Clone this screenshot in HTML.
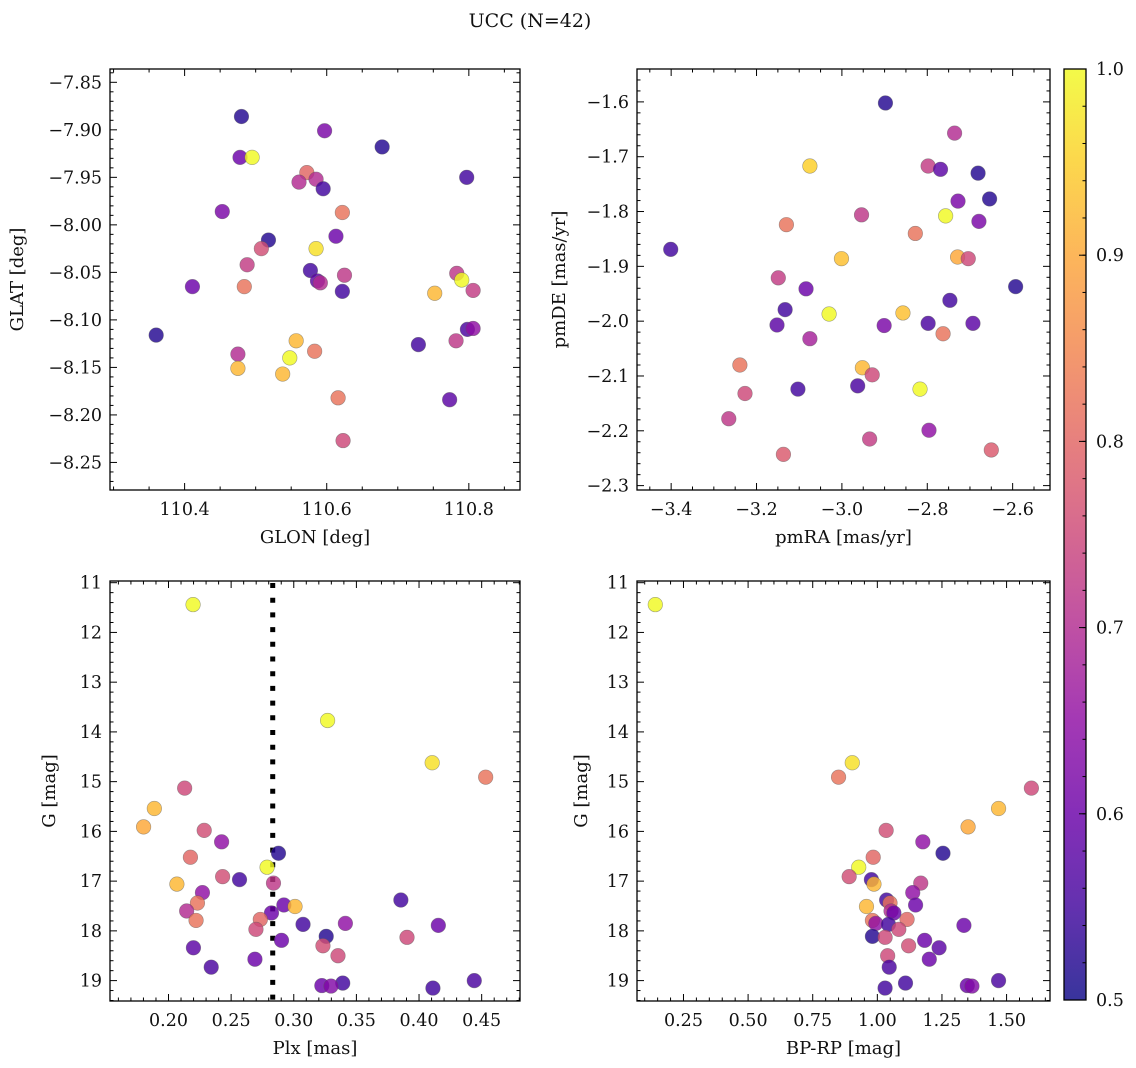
<!DOCTYPE html>
<html><head><meta charset="utf-8"><style>
html,body{margin:0;padding:0;background:#fff;}
svg{display:block;font-family:"DejaVu Serif","Liberation Serif",serif;}
svg text{font-family:"DejaVu Serif","Liberation Serif",serif;}
</style></head><body>
<svg id="fig" width="1136" height="1068" viewBox="0 0 1136 1068">
<text x="530" y="27" font-size="19" text-anchor="middle" fill="#111">UCC (N=42)</text>
</svg>
<script>
// ---- data ----
const glon=[110.480,110.478,110.495,110.597,110.678,110.572,110.561,110.585,110.595,110.797,110.453,110.622,110.613,110.518,110.508,110.585,110.488,110.577,110.625,110.783,110.790,110.587,110.591,110.411,110.484,110.622,110.752,110.806,110.360,110.798,110.806,110.729,110.782,110.557,110.475,110.583,110.548,110.475,110.538,110.616,110.773,110.623];
const glat=[-7.886,-7.929,-7.929,-7.901,-7.918,-7.945,-7.955,-7.952,-7.962,-7.950,-7.986,-7.987,-8.012,-8.016,-8.025,-8.025,-8.042,-8.048,-8.053,-8.051,-8.058,-8.059,-8.061,-8.065,-8.065,-8.070,-8.072,-8.069,-8.116,-8.110,-8.109,-8.126,-8.122,-8.122,-8.136,-8.133,-8.140,-8.151,-8.157,-8.182,-8.184,-8.227];
const cPos=[0.52,0.60,1.0,0.62,0.52,0.80,0.70,0.70,0.55,0.55,0.62,0.82,0.60,0.52,0.76,0.97,0.73,0.55,0.72,0.72,1.0,0.58,0.70,0.60,0.82,0.55,0.92,0.73,0.52,0.56,0.65,0.55,0.72,0.92,0.70,0.82,1.0,0.92,0.92,0.82,0.58,0.75];
const pmra=[-2.898,-2.736,-3.075,-2.798,-2.769,-2.681,-2.728,-2.654,-2.954,-2.757,-2.679,-3.130,-2.828,-3.401,-3.001,-2.729,-2.704,-3.149,-3.084,-2.593,-2.747,-3.133,-3.030,-2.857,-3.152,-2.901,-2.798,-2.693,-2.763,-3.075,-3.239,-2.952,-2.929,-3.227,-3.103,-2.963,-2.817,-3.265,-2.796,-2.935,-3.137,-2.650];
const pmde=[-1.602,-1.657,-1.717,-1.717,-1.723,-1.730,-1.781,-1.777,-1.806,-1.808,-1.818,-1.824,-1.840,-1.869,-1.886,-1.883,-1.886,-1.921,-1.941,-1.937,-1.962,-1.979,-1.987,-1.985,-2.007,-2.008,-2.004,-2.004,-2.023,-2.032,-2.080,-2.085,-2.098,-2.132,-2.124,-2.118,-2.124,-2.178,-2.199,-2.215,-2.243,-2.235];
const cPm=[0.52,0.70,0.95,0.73,0.58,0.52,0.62,0.52,0.72,1.0,0.62,0.82,0.82,0.55,0.93,0.90,0.75,0.73,0.60,0.52,0.55,0.55,1.0,0.93,0.58,0.62,0.56,0.58,0.82,0.68,0.82,0.92,0.75,0.75,0.55,0.56,1.0,0.72,0.65,0.73,0.78,0.78];
const plx=[0.2196,0.327,0.4105,0.4532,0.2129,0.1887,0.1801,0.2285,0.2424,0.2878,0.2175,0.2787,0.2432,0.2567,0.2067,0.2838,0.2271,0.3855,0.2231,0.2921,0.301,0.2145,0.2822,0.2733,0.222,0.3412,0.3074,0.4154,0.2698,0.3259,0.3904,0.2902,0.2199,0.3233,0.3353,0.269,0.2341,0.3391,0.3224,0.3297,0.4441,0.4111];
const gmag=[11.44,13.77,14.62,14.91,15.13,15.54,15.91,15.98,16.21,16.44,16.52,16.72,16.91,16.97,17.06,17.04,17.23,17.38,17.44,17.48,17.51,17.60,17.64,17.77,17.79,17.85,17.87,17.89,17.97,18.11,18.13,18.19,18.34,18.30,18.50,18.57,18.73,19.05,19.10,19.11,19.00,19.15];
const cPhot=[1.0,1.0,0.97,0.82,0.75,0.92,0.90,0.76,0.65,0.52,0.80,1.0,0.76,0.55,0.92,0.72,0.65,0.55,0.82,0.60,0.92,0.70,0.60,0.80,0.82,0.65,0.55,0.60,0.75,0.52,0.75,0.60,0.58,0.76,0.75,0.60,0.56,0.55,0.60,0.63,0.56,0.55];
const bprp=[0.141,null,0.903,0.850,1.596,1.469,1.351,1.034,1.176,1.254,0.984,0.928,0.891,0.977,0.987,1.168,1.137,1.036,1.049,1.148,0.958,1.053,1.064,1.115,0.981,0.994,1.043,1.335,1.083,0.981,1.030,1.183,1.239,1.121,1.040,1.201,1.046,1.109,1.348,1.366,1.469,1.030];
const plxLine=0.2832;
const cbTicks=[0.5,0.6,0.7,0.8,0.9,1.0];

// ---- helpers ----
const NS="http://www.w3.org/2000/svg";
const svg=document.getElementById('fig');
function mk(tag,attrs,parent){const e=document.createElementNS(NS,tag);for(const k in attrs)e.setAttribute(k,attrs[k]);(parent||svg).appendChild(e);return e;}
const stops=[[13,8,135],[65,4,157],[106,0,168],[143,13,164],[177,42,144],[204,71,120],[225,100,98],[242,132,75],[252,166,54],[252,206,37],[240,249,33]];
function plasma(t){t=Math.max(0,Math.min(1,t));const f=t*10,i=Math.min(9,Math.floor(f)),u=f-i;const a=stops[i],b=stops[i+1];return `rgb(${Math.round(a[0]+(b[0]-a[0])*u)},${Math.round(a[1]+(b[1]-a[1])*u)},${Math.round(a[2]+(b[2]-a[2])*u)})`;}
function cmap(v){return plasma((v-0.5)/0.5);}
function fmt(v,d){return (v<0?'\u2212':'')+Math.abs(v).toFixed(d);}

function panel(o){
  const g=mk('g',{});
  
  
  const sx=v=>o.x0+(v-o.xd[0])/(o.xd[1]-o.xd[0])*(o.x1-o.x0);
  const sy=v=>o.yinv? o.y0+(v-o.yd[0])/(o.yd[1]-o.yd[0])*(o.y1-o.y0) : o.y1-(v-o.yd[0])/(o.yd[1]-o.yd[0])*(o.y1-o.y0);
  const eps=1e-9;
  for(let v=Math.ceil(o.xd[0]/o.xmin-eps)*o.xmin; v<=o.xd[1]+eps; v+=o.xmin){
    const isMaj=Math.abs(v/o.xmaj-Math.round(v/o.xmaj))<1e-6;const L=isMaj?7:3.5;const x=sx(v);
    mk('line',{x1:x,x2:x,y1:o.y1,y2:o.y1-L,stroke:'#000','stroke-width':1},g);
    mk('line',{x1:x,x2:x,y1:o.y0,y2:o.y0+L,stroke:'#000','stroke-width':1},g);
    if(isMaj){const t=mk('text',{x:x,y:o.y1+25,'font-size':17.5,'text-anchor':'middle',fill:'#111'},g);t.textContent=fmt(v,o.xdec);}
  }
  for(let v=Math.ceil(Math.min(...o.yd)/o.ymin-eps)*o.ymin; v<=Math.max(...o.yd)+eps; v+=o.ymin){
    const isMaj=Math.abs(v/o.ymaj-Math.round(v/o.ymaj))<1e-6;const L=isMaj?7:3.5;const y=sy(v);
    mk('line',{x1:o.x0,x2:o.x0+L,y1:y,y2:y,stroke:'#000','stroke-width':1},g);
    mk('line',{x1:o.x1,x2:o.x1-L,y1:y,y2:y,stroke:'#000','stroke-width':1},g);
    if(isMaj){const t=mk('text',{x:o.x0-8,y:y+6,'font-size':17.5,'text-anchor':'end',fill:'#111'},g);t.textContent=fmt(v,o.ydec);}
  }
  mk('rect',{x:o.x0,y:o.y0,width:o.x1-o.x0,height:o.y1-o.y0,fill:'none',stroke:'#000','stroke-width':1.3},g);
  if(o.vline!==undefined){const l=mk('line',{x1:sx(o.vline),x2:sx(o.vline),y1:o.y0+2,y2:o.y1,stroke:'#000','stroke-width':5,'stroke-dasharray':'5,9.7'},g);}
  for(let i=0;i<o.xs.length;i++){
    if(o.xs[i]==null)continue;
    const c=mk('circle',{cx:sx(o.xs[i]),cy:sy(o.ys[i]),r:7.3,fill:cmap(o.cs[i]),'fill-opacity':0.82,stroke:'rgba(90,90,90,0.55)','stroke-width':0.6},g);
    
    
  }
  const xl=mk('text',{x:(o.x0+o.x1)/2,y:o.y1+53,'font-size':18,'text-anchor':'middle',fill:'#111'},g);xl.textContent=o.xlabel;
  
  const yx=o.ylx, yy=(o.y0+o.y1)/2;
  const yl=mk('text',{x:yx,y:yy,'font-size':18,'text-anchor':'middle',fill:'#111',transform:`rotate(-90 ${yx} ${yy})`},g);yl.textContent=o.ylabel;
  
}

panel({name:'glon-glat-panel',x0:110,x1:520,y0:69,y1:490,xd:[110.295,110.872],yd:[-8.279,-7.836],xmaj:0.2,xmin:0.05,ymaj:0.05,ymin:0.01,xdec:1,ydec:2,xs:glon,ys:glat,cs:cPos,xlabel:'GLON [deg]',ylabel:'GLAT [deg]',ylx:23});
panel({name:'pm-panel',x0:637,x1:1050,y0:69,y1:490,xd:[-3.480,-2.5125],yd:[-2.308,-1.540],xmaj:0.2,xmin:0.05,ymaj:0.1,ymin:0.02,xdec:1,ydec:1,xs:pmra,ys:pmde,cs:cPm,xlabel:'pmRA [mas/yr]',ylabel:'pmDE [mas/yr]',ylx:565});
panel({name:'plx-g-panel',x0:110,x1:520,y0:581,y1:1001,xd:[0.1533,0.4806],yd:[10.966,19.41],yinv:true,xmaj:0.05,xmin:0.01,ymaj:1,ymin:0.2,xdec:2,ydec:0,xs:plx,ys:gmag,cs:cPhot,vline:plxLine,xlabel:'Plx [mas]',ylabel:'G [mag]',ylx:55});
panel({name:'cmd-panel',x0:637,x1:1050,y0:581,y1:1001,xd:[0.0702,1.668],yd:[10.966,19.41],yinv:true,xmaj:0.25,xmin:0.05,ymaj:1,ymin:0.2,xdec:2,ydec:0,xs:bprp,ys:gmag,cs:cPhot,xlabel:'BP-RP [mag]',ylabel:'G [mag]',ylx:587});

// colorbar
(function(){
  const x0=1064,x1=1086,y0=69,y1=1000;
  const g=mk('g',{});
  
  
  const defs=mk('defs',{},g);
  const lg=mk('linearGradient',{id:'cbg',x1:0,y1:1,x2:0,y2:0},defs);
  for(let i=0;i<=20;i++){mk('stop',{offset:(i/20),'stop-color':plasma(i/20),'stop-opacity':0.82},lg);}
  mk('rect',{x:x0,y:y0,width:x1-x0,height:y1-y0,fill:'url(#cbg)'},g);
  mk('rect',{x:x0,y:y0,width:x1-x0,height:y1-y0,fill:'none',stroke:'#000','stroke-width':1.3},g);
  const sy=v=>y1-(v-0.5)/0.5*(y1-y0);
  for(let v=0.5;v<=1.0001;v+=0.02){const y=sy(v);mk('line',{x1:x1,x2:x1-3.5,y1:y,y2:y,stroke:'#000','stroke-width':1},g);}
  for(const v of cbTicks){const y=sy(v);mk('line',{x1:x1,x2:x1-7,y1:y,y2:y,stroke:'#000','stroke-width':1},g);
    const t=mk('text',{x:x1+10,y:y+6,'font-size':17.5,fill:'#111'},g);t.textContent=v.toFixed(1);
    }
})();
</script>
</body></html>
